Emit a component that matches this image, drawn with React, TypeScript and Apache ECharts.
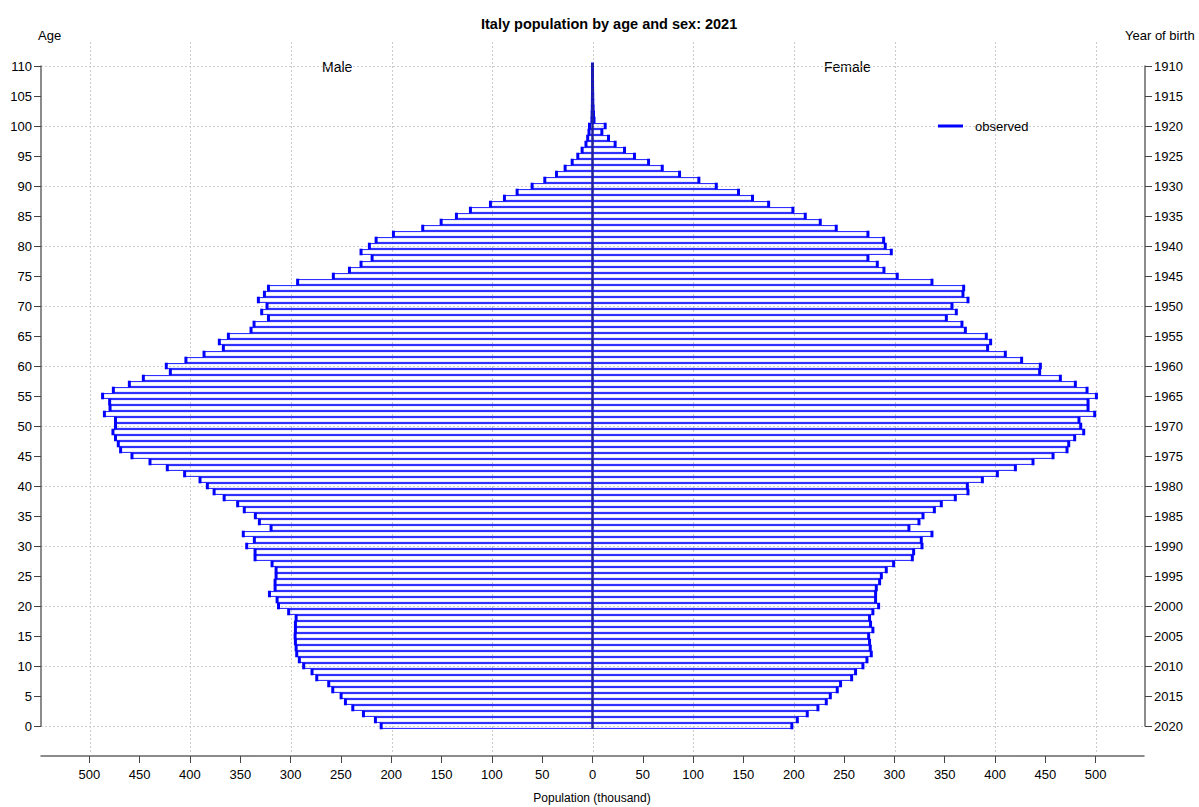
import React, { useEffect, useRef } from "react";
import * as echarts from "echarts";

const FONT = "'Liberation Sans', Arial, Helvetica, sans-serif";

// Population (thousand) by single year of age, index = age 0..110
const maleValues: number[] = [
  210, 215.7, 227.6, 238.2, 245.5, 249.8, 258.1, 262.1, 274, 278.7,
  287, 291.3, 293.9, 294.5, 295.2, 295.5, 295.2, 295.2, 294.5, 301.9,
  312, 313.4, 321, 315.4, 315.4, 314.4, 314.4, 318.4, 335.3, 335.3,
  343.6, 336, 347, 319.4, 331, 335, 346, 352.6, 366, 376,
  382.7, 390, 405.3, 422.5, 439.7, 457.6, 468.9, 471.2, 474, 476.5,
  474, 474, 485, 479.4, 479.8, 486.8, 476.1, 460.2, 446.3, 419.5,
  423.5, 404, 386, 366.8, 370.8, 361.8, 339.3, 336.3, 322, 328.7,
  323.4, 332, 326, 322, 293, 257.5, 241.5, 230, 219, 230,
  221.7, 215, 197.8, 168.7, 150.4, 135.2, 121.3, 101.4, 87.5, 74.9,
  60, 47.4, 35.8, 27.2, 20.2, 14.6, 10.3, 6.5, 4.8, 3.5,
  3, 0.6, 0.4, 0.2, 0.1, 0.05, 0.03, 0.02, 0.01, 0, 0,
];

const femaleValues: number[] = [
  198.1, 203.5, 213.4, 224, 232.3, 236.3, 243.2, 246.5, 257.5, 261.4,
  268.7, 272.7, 277, 276, 275.3, 274.4, 278.6, 276.3, 275.3, 278.6,
  284.3, 281.3, 281.3, 282, 285.3, 287, 291.9, 299.2, 317.8, 319.1,
  327.4, 326.7, 337.3, 314.4, 324.4, 328.4, 339.7, 346.6, 360.5, 373.1,
  372.5, 387.4, 402.3, 420.2, 437.7, 457.6, 471.5, 473.2, 479.1, 488.1,
  485.1, 483.4, 499, 492.4, 492.4, 500.7, 491.4, 479.8, 464.9, 444.3,
  445, 426.4, 410.2, 392.6, 395.6, 391.3, 370.5, 367.1, 351.6, 361.5,
  357.2, 373.1, 368.1, 368.8, 337.3, 302.8, 289.6, 283, 273.7, 296.9,
  290.9, 289.3, 273.7, 242.2, 226.3, 211.4, 199.1, 175, 159, 145.1,
  123, 105.7, 86.5, 69.3, 55.7, 41.7, 31.8, 22.5, 15.9, 9.3,
  12.6, 1.5, 1, 0.6, 0.3, 0.2, 0.1, 0.05, 0.02, 0.01, 0,
];

const ages: number[] = maleValues.map((_, i) => i);

const xTickValues: number[] = [
  -500, -450, -400, -350, -300, -250, -200, -150, -100, -50, 0,
  50, 100, 150, 200, 250, 300, 350, 400, 450, 500,
];

const censusYear = 2020;

const BLUE = "#0000ff";
const BAR_EDGE = "rgba(0,0,255,0.9)";

export default function App() {
  const ref = useRef<HTMLDivElement>(null);

  useEffect(() => {
    if (!ref.current) return;
    const chart = echarts.init(ref.current, undefined, { renderer: "svg" });

    const data = ages.map((a, i) => [a, maleValues[i], femaleValues[i]]);

    const renderItem = (params: any, api: any) => {
      const age = api.value(0);
      const m = api.value(1);
      const f = api.value(2);
      const top = api.coord([0, age + 0.4])[1];
      const bot = api.coord([0, age - 0.4])[1];
      const capTop = api.coord([0, age + 0.55])[1];
      const capBot = api.coord([0, age - 0.55])[1];
      const lineTop = api.coord([0, age + 0.5])[1];
      const lineBot = api.coord([0, age - 0.5])[1];
      const x0 = api.coord([0, age])[0];
      const xm = api.coord([-m, age])[0];
      const xf = api.coord([f, age])[0];
      return {
        type: "group",
        children: [
          {
            type: "rect",
            shape: { x: xm, y: top, width: x0 - xm, height: bot - top },
            style: { fill: "none", stroke: BAR_EDGE, lineWidth: 1 },
          },
          {
            type: "rect",
            shape: { x: x0, y: top, width: xf - x0, height: bot - top },
            style: { fill: "none", stroke: BAR_EDGE, lineWidth: 1 },
          },
          {
            type: "line",
            shape: { x1: xm, y1: capTop, x2: xm, y2: capBot },
            style: { stroke: BLUE, lineWidth: 3 },
          },
          {
            type: "line",
            shape: { x1: xf, y1: capTop, x2: xf, y2: capBot },
            style: { stroke: BLUE, lineWidth: 3 },
          },
          {
            type: "line",
            shape: { x1: x0, y1: lineTop, x2: x0, y2: lineBot },
            style: { stroke: "#22229a", lineWidth: 2.5 },
          },
        ],
      };
    };

    const axisLineStyle = { color: "#666", width: 1.5 };
    const tickStyle = { color: "#444", width: 1 };
    const gridLine = { color: "#cccccc", type: [2, 2] as any, width: 1 };

    chart.setOption({
      animation: false,
      backgroundColor: "#ffffff",
      textStyle: { fontFamily: FONT },
      title: {
        text: "Italy population by age and sex: 2021",
        left: 476,
        top: 11,
        textStyle: { fontSize: 14.5, fontWeight: "bold", color: "#000", fontFamily: FONT },
      },
      grid: [
        { left: 41, right: 55, top: 42, bottom: 51 },
        { left: 41, right: 55, top: 66, bottom: 81 },
        { left: 90, right: 103, top: 42, bottom: 55 },
      ],
      xAxis: [
        {
          gridIndex: 0,
          type: "value",
          min: -548,
          max: 548,
          position: "bottom",
          axisLine: { show: true, onZero: false, lineStyle: axisLineStyle },
          axisTick: { show: true, inside: false, length: 7, customValues: xTickValues, lineStyle: tickStyle },
          axisLabel: {
            customValues: xTickValues,
            formatter: (v: number) => String(Math.abs(v)),
            fontSize: 13,
            color: "#000",
            fontFamily: FONT,
            margin: 12,
          },
          splitLine: { show: false },
        },
        { gridIndex: 1, type: "value", min: -548, max: 548, show: false },
        {
          gridIndex: 2,
          type: "value",
          min: -500,
          max: 500,
          interval: 100,
          axisLine: { show: false },
          axisTick: { show: false },
          axisLabel: { show: false },
          splitLine: { show: true, lineStyle: gridLine },
        },
      ],
      yAxis: [
        { gridIndex: 0, type: "value", min: 0, max: 1, show: false },
        {
          gridIndex: 1,
          type: "value",
          min: 0,
          max: 110,
          interval: 5,
          position: "left",
          axisLine: { show: true, onZero: false, lineStyle: axisLineStyle },
          axisTick: { show: true, inside: false, length: 7, lineStyle: tickStyle },
          axisLabel: { fontSize: 13, color: "#000", fontFamily: FONT, margin: 9 },
          splitLine: { show: false },
        },
        {
          gridIndex: 1,
          type: "value",
          min: 0,
          max: 110,
          interval: 5,
          position: "right",
          offset: 1,
          axisLine: { show: true, onZero: false, lineStyle: axisLineStyle },
          axisTick: { show: true, inside: false, length: 7, lineStyle: tickStyle },
          axisLabel: {
            fontSize: 13,
            color: "#000",
            fontFamily: FONT,
            margin: 9,
            formatter: (v: number) => String(censusYear - v),
          },
          splitLine: { show: false },
        },
        {
          gridIndex: 1,
          type: "value",
          min: 0,
          max: 110,
          interval: 10,
          axisLine: { show: false, onZero: false },
          axisTick: { show: false },
          axisLabel: { show: false },
          splitLine: { show: true, lineStyle: gridLine },
        },
        { gridIndex: 2, type: "value", min: 0, max: 1, show: false },
      ],
      graphic: [
        {
          type: "text",
          left: 38,
          top: 29,
          style: { text: "Age", fontSize: 13, fill: "#000", fontFamily: FONT },
        },
        {
          type: "text",
          left: 1125,
          top: 29,
          style: { text: "Year of birth", fontSize: 13, fill: "#000", fontFamily: FONT },
        },
        {
          type: "text",
          left: 322,
          top: 60,
          style: { text: "Male", fontSize: 14, fill: "#000", fontFamily: FONT },
        },
        {
          type: "text",
          left: 824,
          top: 60,
          style: { text: "Female", fontSize: 14, fill: "#000", fontFamily: FONT },
        },
        {
          type: "text",
          x: 592,
          y: 798,
          style: {
            text: "Population (thousand)",
            fontSize: 12,
            fill: "#000",
            fontFamily: FONT,
            align: "center",
            verticalAlign: "middle",
          },
        },
        {
          type: "rect",
          z: 100,
          shape: { x: 938, y: 124.5, width: 25, height: 3 },
          style: { fill: BLUE },
        },
        {
          type: "text",
          z: 100,
          x: 975,
          y: 126,
          style: {
            text: "observed",
            fontSize: 13,
            fill: "#000",
            fontFamily: FONT,
            verticalAlign: "middle",
          },
        },
      ],
      series: [
        {
          type: "custom",
          name: "observed",
          xAxisIndex: 1,
          yAxisIndex: 1,
          renderItem,
          data,
          encode: { x: 1, y: 0 },
          clip: false,
          z: 3,
        },
      ],
    });

    return () => {
      chart.dispose();
    };
  }, []);

  return (
    <div
      ref={ref}
      style={{ position: "fixed", left: 0, top: 0, width: 1199, height: 807, background: "#fff" }}
    />
  );
}
